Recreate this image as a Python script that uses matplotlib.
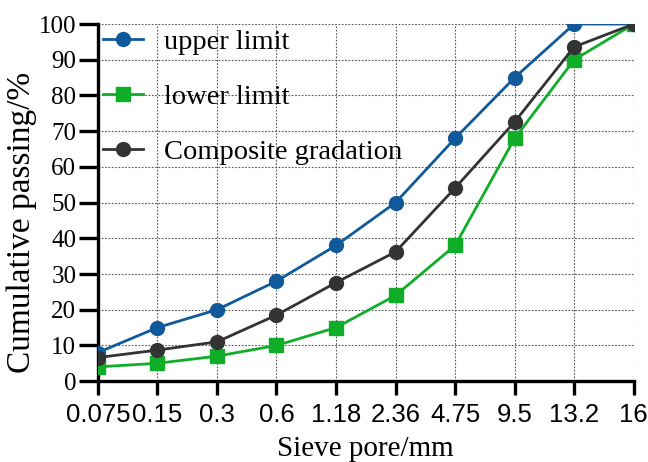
import numpy as np
import matplotlib
matplotlib.use('Agg')
import matplotlib.pyplot as plt

sieve = ['0.075', '0.15', '0.3', '0.6', '1.18', '2.36', '4.75', '9.5', '13.2', '16']
upper = [8, 15, 20, 28, 38, 50, 68, 85, 100, 100]
lower = [4, 5, 7, 10, 15, 24, 38, 68, 90, 100]
composite = [6.6, 8.7, 11.0, 18.5, 27.6, 36.2, 54.1, 72.6, 93.6, 100]

serif = 'Liberation Serif'
sans = 'Liberation Sans'

fig = plt.figure(figsize=(6.48, 4.62), dpi=100)
ax = fig.add_axes([0.151, 0.175, 0.827, 0.773])

x = np.arange(len(sieve))
ax.plot(x, upper, '-o', color='#105a9c', lw=2, ms=10, label='upper limit', zorder=3)
ax.plot(x, lower, '-s', color='#10ae28', lw=2, ms=9.5, label='lower limit', zorder=3)
ax.plot(x, composite, '-o', color='#333333', lw=2, ms=10, label='Composite gradation', zorder=4)

ax.set_xlim(0, len(sieve) - 1)
ax.set_ylim(0, 100)
ax.set_xticks(x)
ax.set_xticklabels(sieve, family=sans, fontsize=18.5)
ax.set_yticks(np.arange(0, 101, 10))
ax.set_yticklabels([str(v) for v in range(0, 101, 10)], family=serif, fontsize=18)

ax.grid(True, ls=(0, (1.5, 1.5)), color='#555555', lw=0.8)
ax.set_axisbelow(True)
for s in ['top', 'right']:
    ax.spines[s].set_visible(False)
for s in ['left', 'bottom']:
    ax.spines[s].set_linewidth(2.4)
ax.tick_params(axis='x', direction='out', length=10, width=2.4, pad=6)
ax.tick_params(axis='y', direction='out', length=14, width=2.4, pad=1.5)

ax.set_xlabel('Sieve pore/mm', family=serif, fontsize=21, labelpad=6)
ax.set_ylabel('Cumulative passing/%', family=serif, fontsize=24)
ax.yaxis.set_label_coords(-0.113, 0.445)

ax.legend(loc='upper left', bbox_to_anchor=(0.0, 1.0), frameon=False,
          prop={'family': serif, 'size': 20.5}, handlelength=1.4,
          handletextpad=0.75, labelspacing=1.02, borderaxespad=0.0, borderpad=0.18)

fig.savefig('out.png', dpi=100)
